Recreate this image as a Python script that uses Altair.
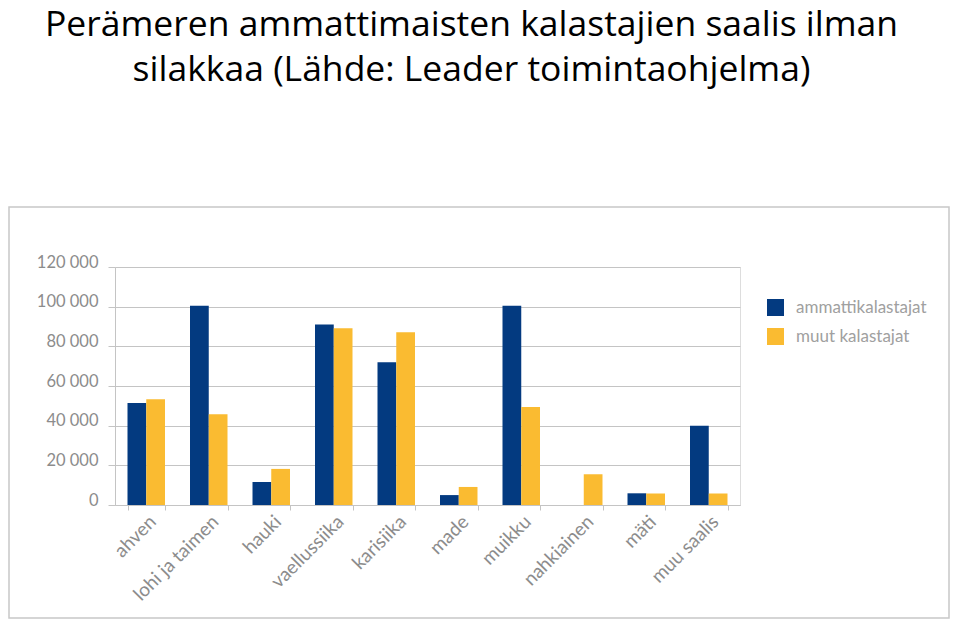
import altair as alt
import pandas as pd

categories = ["ahven", "lohi ja taimen", "hauki", "vaellussiika", "karisiika",
              "made", "muikku", "nahkiainen", "mäti", "muu saalis"]
series = ["ammattikalastajat", "muut kalastajat"]
ammattikalastajat = [51400, 100400, 11600, 91000, 72000, 5000, 100400, 0, 5900, 40000]
muut_kalastajat = [53300, 45700, 18200, 89100, 87100, 9100, 49400, 15500, 5800, 5800]
y_ticks = [0, 20000, 40000, 60000, 80000, 100000, 120000]
colors = ["#033A80", "#FABB31"]

rows = []
for i, c in enumerate(categories):
    rows.append({"kala": c, "sarja": series[0], "saalis": ammattikalastajat[i]})
    rows.append({"kala": c, "sarja": series[1], "saalis": muut_kalastajat[i]})
df = pd.DataFrame(rows)

grid = "#c4c4c4"
label_gray = "#8c8c8c"

bars = alt.Chart(df).mark_bar().encode(
    x=alt.X("kala:N", sort=categories,
            scale=alt.Scale(paddingInner=0.4, paddingOuter=0.2),
            axis=alt.Axis(title=None, labelAngle=-45, labelAlign="right",
                          labelBaseline="top", tickBand="extent", ticks=True,
                          tickSize=5, tickColor=grid, domainColor=grid,
                          labelFont="Lato", labelFontSize=19, labelColor=label_gray,
                          labelPadding=2, grid=False)),
    xOffset=alt.XOffset("sarja:N", sort=series,
                        scale=alt.Scale(paddingInner=0, paddingOuter=0)),
    y=alt.Y("saalis:Q", scale=alt.Scale(domain=[0, 120000], nice=False),
            axis=alt.Axis(title=None, values=y_ticks,
                          labelExpr="replace(format(datum.value, ','), ',', ' ')",
                          tickSize=7, tickColor=grid, domainColor=grid,
                          gridColor=grid, labelPadding=10,
                          labelBaseline="alphabetic", labelFont="Lato",
                          labelFontSize=16.5, labelColor=label_gray)),
    color=alt.Color("sarja:N", scale=alt.Scale(domain=series, range=colors),
                    legend=alt.Legend(title=None, orient="none", legendX=652,
                                      legendY=32, symbolType="square",
                                      symbolSize=289, symbolStrokeWidth=0,
                                      labelFont="Lato", labelFontSize=17,
                                      labelColor="#a0a0a0", rowPadding=11,
                                      labelOffset=12)),
)

box = alt.Chart(pd.DataFrame({"a": [0]})).mark_rect(
    fill="white", fillOpacity=0, stroke="#c8c8c8", strokeWidth=1.5
).encode(x=alt.value(-106), x2=alt.value(834), y=alt.value(-60), y2=alt.value(351))

chart = alt.layer(box, bars).properties(
    width=625, height=238,
    autosize=alt.AutoSizeParams(type="none"),
    padding={"left": 107, "top": 259, "right": 210, "bottom": 114},
    title=alt.Title(["Perämeren ammattimaisten kalastajien saalis ilman",
                     "silakkaa (Lähde: Leader toimintaohjelma)"],
                    font="Open Sans", fontSize=35.5, fontWeight="normal",
                    color="black", anchor="middle", dx=44, offset=118,
                    lineHeight=45),
).configure_view(stroke=grid).configure(background="white")

chart.save("out.html", embed_options={"renderer": "svg", "actions": False})
